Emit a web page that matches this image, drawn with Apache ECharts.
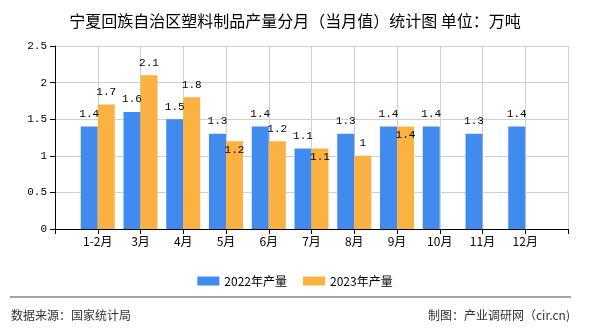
<!DOCTYPE html>
<html>
<head>
<meta charset="utf-8">
<script src="https://cdn.jsdelivr.net/npm/echarts@6/dist/echarts.min.js"></script>
<style>html,body{margin:0;padding:0;background:#fff}#c{width:590px;height:330px}</style>
</head>
<body>
<div id="c"></div>
<script>
var categories = ['', '1-2月', '3月', '4月', '5月', '6月', '7月', '8月', '9月', '10月', '11月', '12月', ''];
var values2022 = [null, 1.4, 1.6, 1.5, 1.3, 1.4, 1.1, 1.3, 1.4, 1.4, 1.3, 1.4, null];
var values2023 = [null, 1.7, 2.1, 1.8, 1.2, 1.2, 1.1, 1.0, 1.4, null, null, null, null];
var seriesNames = ['2022年产量', '2023年产量'];
var yTicks = [0, 0.5, 1, 1.5, 2, 2.5];
var titleText = '宁夏回族自治区塑料制品产量分月（当月值）统计图 单位：万吨';
var sourceText = '数据来源：国家统计局';
var creditText = '制图：产业调研网（cir.cn)';

var insideLabelCats = ['5月', '7月', '9月'];
var monoFont = '"Liberation Mono", "DejaVu Sans Mono", monospace';
var cjkFont = '"Noto Sans CJK SC", sans-serif';

function buildData(vals, insideList) {
  return vals.map(function (v, i) {
    if (insideList && insideList.indexOf(categories[i]) >= 0) {
      return { value: v, label: { position: 'insideTop', distance: 3 } };
    }
    return v;
  });
}

var chart = echarts.init(document.getElementById('c'), null, { renderer: 'canvas' });
var labelStyle = {
  show: true, position: 'top', distance: 7, color: '#000',
  fontFamily: monoFont, fontSize: 11,
  formatter: function (p) { return p.value == null ? '' : String(p.value); }
};
chart.setOption({
  animation: false,
  backgroundColor: '#fff',
  title: {
    text: titleText, left: 'center', top: 8,
    textStyle: { fontFamily: cjkFont, fontSize: 16, fontWeight: 'normal', color: '#000' }
  },
  legend: {
    data: seriesNames, left: 'center', top: 270,
    itemWidth: 22, itemHeight: 9, itemGap: 16,
    icon: 'rect',
    textStyle: { fontFamily: cjkFont, fontSize: 12, color: '#000' }
  },
  grid: { left: 55, right: 22, top: 46, bottom: 101, containLabel: false },
  xAxis: {
    type: 'category', data: categories, boundaryGap: false,
    axisLine: { lineStyle: { color: '#000', width: 1 } },
    axisTick: { show: true, length: 5, lineStyle: { color: '#000' } },
    axisLabel: { interval: 0, color: '#000', fontFamily: cjkFont, fontSize: 12, margin: 6 },
    splitLine: { show: true, lineStyle: { color: '#d0d0d0', width: 1 } }
  },
  yAxis: {
    type: 'value', min: yTicks[0], max: yTicks[yTicks.length - 1], interval: yTicks[1] - yTicks[0],
    axisLine: { show: true, lineStyle: { color: '#000', width: 1 } },
    axisTick: { show: true, length: 5, lineStyle: { color: '#000' } },
    axisLabel: { color: '#000', fontFamily: monoFont, fontSize: 11, margin: 8 },
    splitLine: { show: true, lineStyle: { color: '#d0d0d0', width: 1 } }
  },
  series: [
    {
      name: seriesNames[0], type: 'bar', data: buildData(values2022, null),
      barWidth: 17, barGap: '0%',
      itemStyle: { color: '#428BEE' },
      label: labelStyle
    },
    {
      name: seriesNames[1], type: 'bar', data: buildData(values2023, insideLabelCats),
      barWidth: 17, barGap: '0%',
      itemStyle: { color: '#FBB242' },
      label: labelStyle
    }
  ],
  graphic: [
    { type: 'line', shape: { x1: 10, y1: 297, x2: 571, y2: 297 }, style: { stroke: '#888', lineWidth: 1.5 } },
    { type: 'text', left: 11, top: 309, style: { text: sourceText, fill: '#333', font: '12px "Noto Sans CJK SC", sans-serif' } },
    { type: 'text', right: 20, top: 309, style: { text: creditText, fill: '#333', font: '12px "Noto Sans CJK SC", sans-serif' } }
  ]
});
</script>
</body>
</html>
